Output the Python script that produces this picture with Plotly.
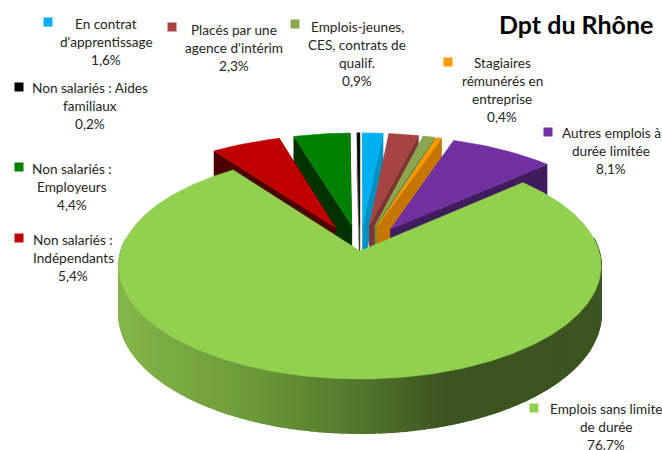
import math
import plotly.graph_objects as go

# ---- data ----
categories = ["En contrat d'apprentissage", "Placés par une agence d'intérim",
              "Emplois-jeunes, CES, contrats de qualif.", "Stagiaires rémunérés en entreprise",
              "Autres emplois à durée limitée", "Emplois sans limite de durée",
              "Non salariés : Indépendants", "Non salariés : Employeurs",
              "Non salariés : Aides familiaux"]
values = [1.6, 2.3, 0.9, 0.4, 8.1, 76.7, 5.4, 4.4, 0.2]
pct_labels = ["1,6%", "2,3%", "0,9%", "0,4%", "8,1%", "76.7%", "5,4%", "4,4%", "0,2%"]
label_lines = [
    ["En contrat", "d'apprentissage"],
    ["Placés par une", "agence d'intérim"],
    ["Emplois-jeunes,", "CES, contrats de", "qualif."],
    ["Stagiaires", "rémunérés en", "entreprise"],
    ["Autres emplois à", "durée limitée"],
    ["Emplois sans limite", "de durée"],
    ["Non salariés :", "Indépendants"],
    ["Non salariés :", "Employeurs"],
    ["Non salariés : Aides", "familiaux"],
]

# ---- style / layout ----
colors = ["#00B0F0", "#A64444", "#8AA64F", "#FF9900", "#7030A0", "#92D050", "#C00000", "#008000", "#000000"]
cut_left = ["#00B0F0", "#A64444", "#8AA64F", "#FF9900", "#7030A0", "#92D050", "#4D0000", "#003300", "#555555"]
cut_right = ["#0090C4", "#7F3434", "#6B8540", "#C47600", "#3F1C5C", "#92D050", "#4D0000", "#003300", "#222222"]
draw_order = [8, 0, 7, 1, 2, 3, 6, 4, 5]
exploded = [0.24] * 5 + [0.0] + [0.24] * 3

CX, CY, RX, RY, K, DEPTH = 360, 251, 239, 111, 0.133, 47

square_x = [48, 172, 295, 448, 548, 534, 19, 19, 19]
square_y = [22, 27, 24, 62, 132, 408, 238, 167, 87]
text_x = [106, 234, 357, 502, 611, 606, 73, 72, 90]
text_top = [24, 30, 27, 63, 133, 409, 240, 169, 88]
LINE_H = 18
FONT = "Lato"
FSIZE = 13.6

rim_stops = [(122, (0x84, 0xB5, 0x49)), (250, (0x6C, 0x9A, 0x39)), (350, (0x55, 0x7A, 0x2D)),
             (445, (0x3C, 0x54, 0x20)), (662, (0x3C, 0x54, 0x20))]


def project(X, Y, z=0.0):
    s = 1 / (1 + K * Y)
    return CX + RX * X * s, CY - RY * Y * s + DEPTH * z * s


def rim_color(x):
    for (x0, c0), (x1, c1) in zip(rim_stops, rim_stops[1:]):
        if x <= x1:
            t = max(0.0, (x - x0) / (x1 - x0))
            return "rgb(%d,%d,%d)" % tuple(round(a + (b - a) * t) for a, b in zip(c0, c1))
    return "rgb(60,84,32)"


def poly(fig, pts, color, lw=0.5):
    xs = [p[0] for p in pts] + [pts[0][0]]
    ys = [p[1] for p in pts] + [pts[0][1]]
    fig.add_trace(go.Scatter(x=xs, y=ys, mode="lines", fill="toself", fillcolor=color,
                             line=dict(width=lw, color=color), hoverinfo="skip", showlegend=False))


fig = go.Figure()

# angular extents, clockwise from the top
bounds = []
acc = 0.0
total = sum(values)
for v in values:
    bounds.append((acc / total * 2 * math.pi, (acc + v) / total * 2 * math.pi))
    acc += v

for i in draw_order:
    a0, a1 = bounds[i]
    mid = (a0 + a1) / 2
    ox, oy = exploded[i] * math.sin(mid), exploded[i] * math.cos(mid)
    n = max(4, int((a1 - a0) * 60))
    angs = [a0 + (a1 - a0) * j / n for j in range(n + 1)]
    rim = [(ox + math.sin(a), oy + math.cos(a)) for a in angs]
    apex = (ox, oy)
    if i == 5:
        # outer wall, shaded strip by strip
        front = [(X, Y) for X, Y in rim if Y < 0.12]
        for p, q in zip(front, front[1:]):
            pts = [project(*p), project(*q), project(*q, 1), project(*p, 1)]
            col = rim_color((pts[0][0] + pts[1][0]) / 2)
            poly(fig, pts, col, lw=1.5)
    else:
        # cut faces
        for edge, col in ((rim[0], cut_left[i]), (rim[-1], cut_right[i])):
            poly(fig, [project(*apex), project(*edge), project(*edge, 1), project(*apex, 1)], col)
    poly(fig, [project(*apex)] + [project(*p) for p in rim], colors[i])

# legend squares
for i in range(len(categories)):
    fig.add_trace(go.Scatter(x=[square_x[i]], y=[square_y[i]], mode="markers",
                             marker=dict(symbol="square", size=9, color=colors[i]),
                             hoverinfo="skip", showlegend=False))

# legend labels
annotations = []
for i in range(len(categories)):
    for j, line in enumerate(label_lines[i] + [pct_labels[i]]):
        annotations.append(dict(x=text_x[i], y=text_top[i] + j * LINE_H, xref="x", yref="y",
                                text=line, showarrow=False, xanchor="center", yanchor="middle",
                                font=dict(family=FONT, size=FSIZE, color="#262626")))
annotations.append(dict(x=576, y=24, xref="x", yref="y", text="<b>Dpt du Rhône</b>", showarrow=False,
                        xanchor="center", yanchor="middle", font=dict(family=FONT, size=25, color="#000000")))

fig.update_layout(
    width=662, height=450, margin=dict(l=0, r=0, t=0, b=0),
    paper_bgcolor="white", plot_bgcolor="white", showlegend=False, annotations=annotations,
    xaxis=dict(range=[0, 662], visible=False, fixedrange=True),
    yaxis=dict(range=[450, 0], visible=False, fixedrange=True),
)
fig.write_html("out.html", config=dict(displayModeBar=False),
               post_script="document.documentElement.style.overflow='hidden';document.body.style.margin='0';")
